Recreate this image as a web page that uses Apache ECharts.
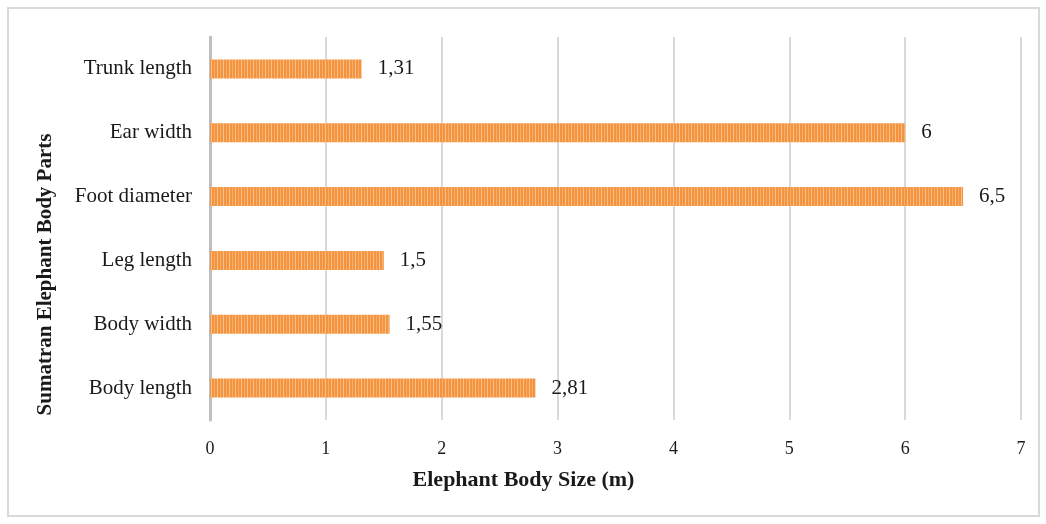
<!DOCTYPE html>
<html><head><meta charset="utf-8">
<script src="https://cdn.jsdelivr.net/npm/echarts@6/dist/echarts.min.js"></script>
<style>html,body{margin:0;padding:0;background:#fff}#c{width:1046px;height:524px}
#frame{position:absolute;left:7px;top:7px;width:1033px;height:510px;border:2px solid #D9D9D9;box-sizing:border-box;pointer-events:none}</style>
</head><body><div id="c"></div><div id="frame"></div>
<script>
const categories = ['Body length','Body width','Leg length','Foot diameter','Ear width','Trunk length'];
const values = [2.81, 1.55, 1.5, 6.5, 6, 1.31];
const xTicks = [0,1,2,3,4,5,6,7];

const cv = document.createElement('canvas');
cv.width = 6; cv.height = 20;
const g = cv.getContext('2d');
g.fillStyle = '#F4943F'; g.fillRect(0,0,6,20);
g.fillStyle = '#F9C08C'; g.fillRect(1,0,1,20);
g.fillStyle = '#F7AC6A'; g.fillRect(4,0,1,20);

const chart = echarts.init(document.getElementById('c'));
const serif = '"Liberation Serif", "DejaVu Serif", serif';
chart.setOption({
  animation: false,
  grid: {left: 210, right: 25, top: 37, bottom: 104, containLabel: false},
  xAxis: {
    type: 'value', min: 0, max: 7, interval: 1,
    name: 'Elephant Body Size (m)', nameLocation: 'middle', nameGap: 49,
    nameTextStyle: {fontFamily: serif, fontWeight: 'bold', fontSize: 22, color: '#1a1a1a', padding: [0, 184, 0, 0]},
    axisLine: {show: false}, axisTick: {show: false},
    axisLabel: {fontFamily: serif, fontSize: 18, color: '#1a1a1a', margin: 20,
      formatter: v => xTicks.includes(v) ? String(v) : ''},
    splitLine: {show: true, lineStyle: {color: '#D9D9D9', width: 2}}
  },
  yAxis: {
    type: 'category', data: categories,
    name: 'Sumatran Elephant Body Parts', nameLocation: 'middle', nameGap: 154,
    nameTextStyle: {fontFamily: serif, fontWeight: 'bold', fontSize: 21, color: '#1a1a1a', padding: [0, 92, 0, 0]},
    axisLine: {show: true, lineStyle: {color: '#BFBFBF', width: 3}},
    axisTick: {show: false},
    axisLabel: {fontFamily: serif, fontSize: 21, color: '#1a1a1a', margin: 18}
  },
  series: [{
    type: 'bar', data: values, barWidth: 19,
    itemStyle: {color: {image: cv, repeat: 'repeat'}},
    label: {show: true, position: 'right', distance: 16, fontFamily: serif, fontSize: 21, color: '#1a1a1a',
      formatter: p => String(p.value).replace('.', ',')}
  }]
});
</script></body></html>
